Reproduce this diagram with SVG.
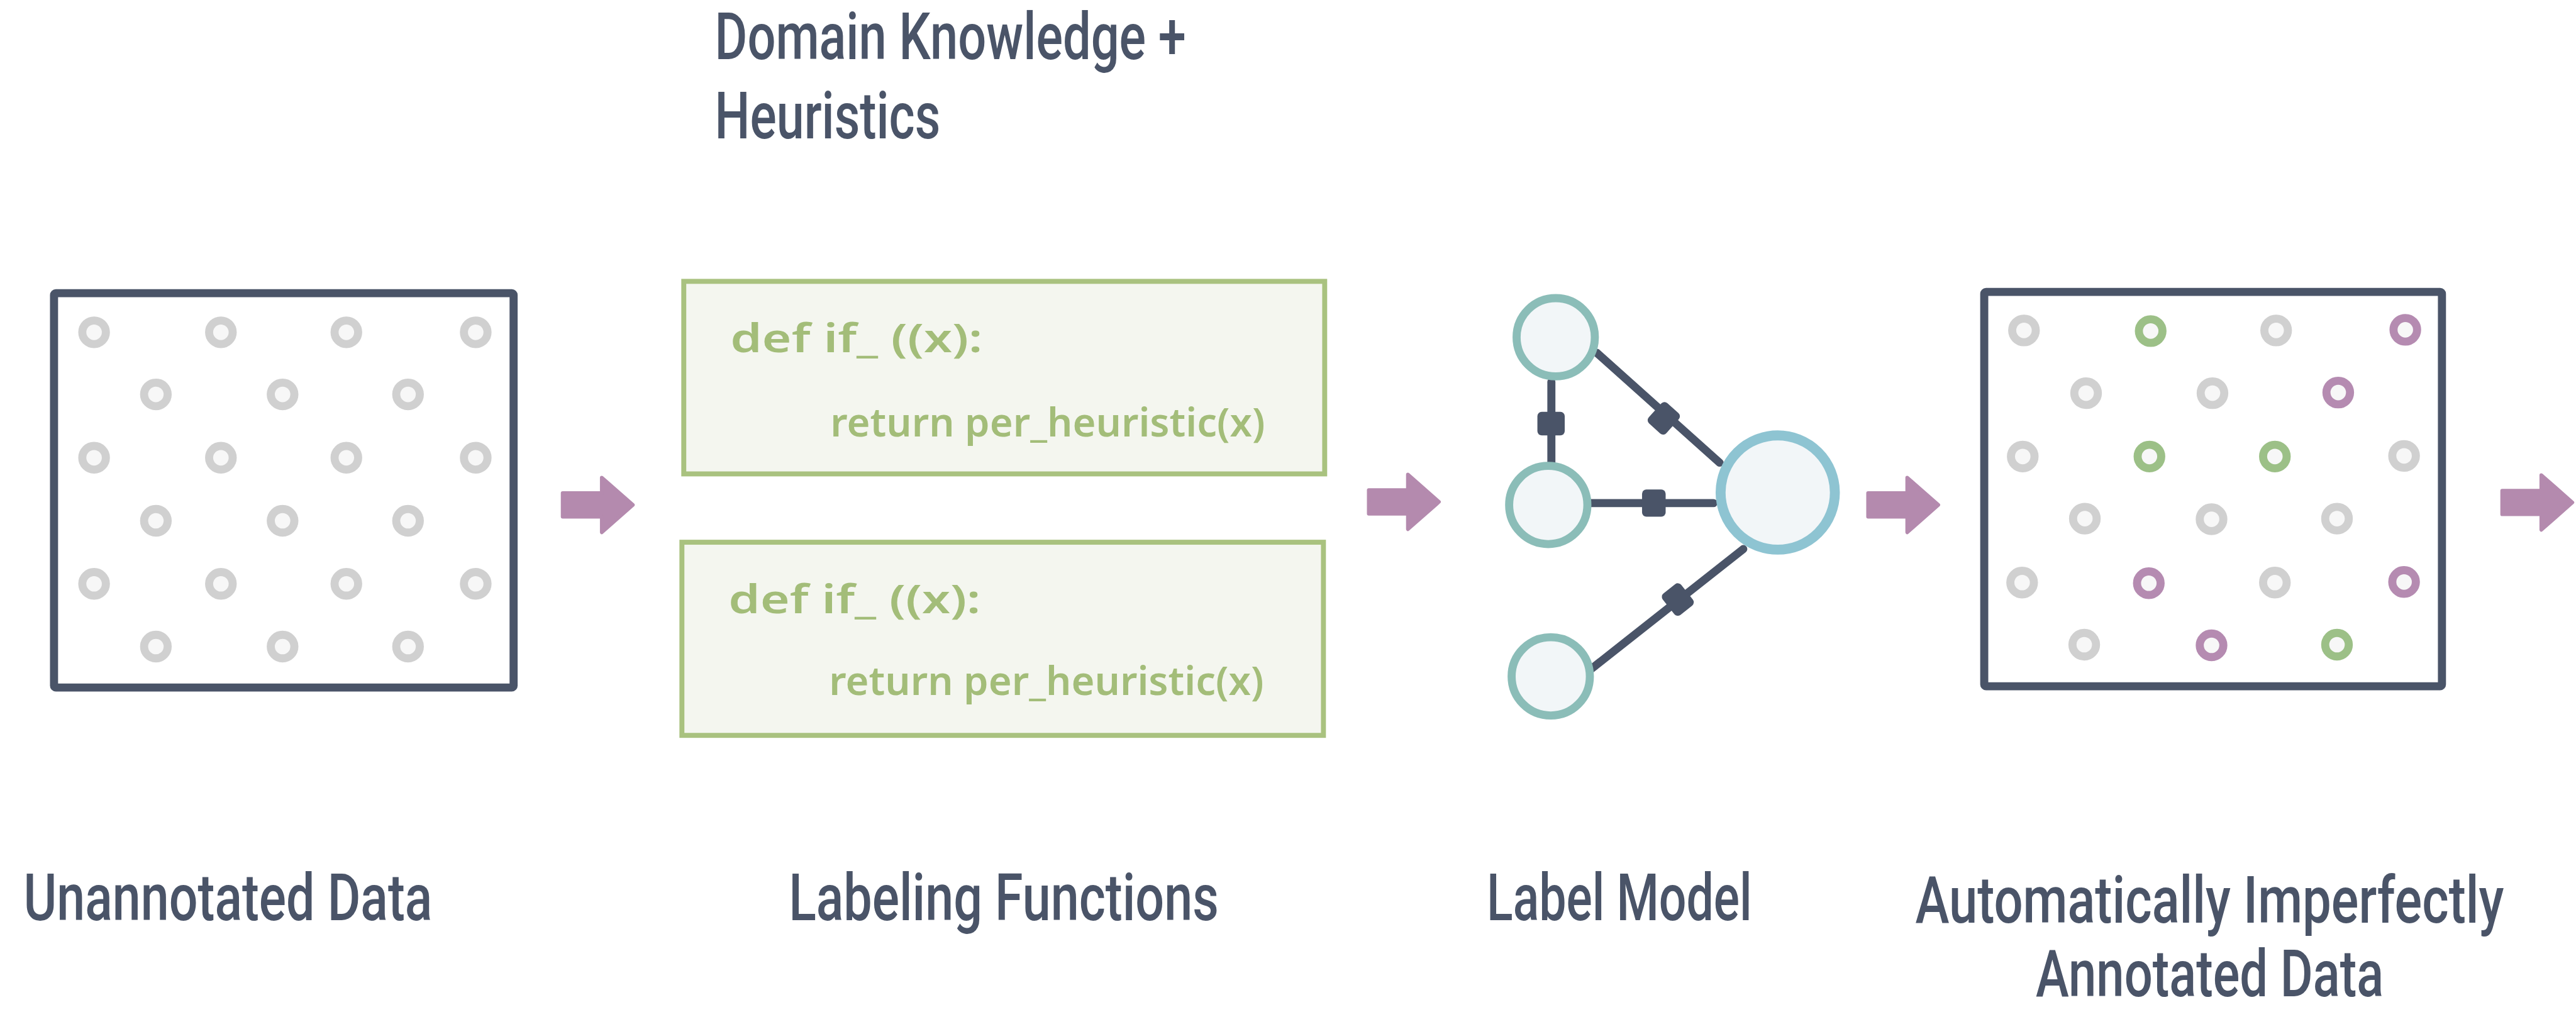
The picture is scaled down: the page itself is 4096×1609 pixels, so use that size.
<svg xmlns="http://www.w3.org/2000/svg" width="4096" height="1609" viewBox="0 0 4096 1609">
  <defs>
    <style>
      .frame { fill: #ffffff; stroke: #4a5468; stroke-width: 13; stroke-linejoin: round; }
      .lf { fill: #f4f6ef; stroke: #a9c27f; stroke-width: 8; }
      .code { font-family: "Noto Sans", "DejaVu Sans", sans-serif; font-size: 64px; font-weight: 600; fill: #a3bd79; }
      .label { font-family: "Roboto", "Liberation Sans", sans-serif; font-size: 106px; font-weight: 500; fill: #4a5468; }
      .pt { stroke-width: 13; fill: #f7f7f7; }
      .grey { stroke: #d0d0d0; }
      .green { stroke: #9cc087; }
      .purple { stroke: #b58bb1; }
      .arrow { fill: #b48aae; stroke: #b48aae; stroke-width: 6; stroke-linejoin: round; }
      .node { fill: #f2f6f8; stroke: #8bbdb8; stroke-width: 13; }
      .hub { fill: #f2f6f8; stroke: #8ec4d2; stroke-width: 16; }
      .edge { stroke: #4a5468; stroke-width: 13; stroke-linecap: round; fill: none; }
      .knob { fill: #4a5468; }
    </style>
    <path id="arrowShape" class="arrow" d="M3,-19 L66,-19 L66,-44 L116,0 L66,44 L66,19 L3,19 Z"/>
    <!-- edge marker, long side across the edge -->
    <rect id="knob" class="knob" x="-19" y="-22" width="38" height="44" rx="7"/>
    <circle id="dot" r="19"/>
  </defs>

  <rect width="4096" height="1609" fill="#ffffff"/>

  <g transform="scale(0.9875)">

    <!-- heading above the labeling functions (labels are narrowed horizontally) -->
    <g id="heading">
      <text class="label" transform="translate(1151 95) scale(0.7 1)" textLength="1084" lengthAdjust="spacingAndGlyphs">Domain Knowledge +</text>
      <text class="label" transform="translate(1151 223) scale(0.7 1)" textLength="519" lengthAdjust="spacingAndGlyphs">Heuristics</text>
    </g>

    <!-- unlabelled points -->
    <g id="unannotated-data">
      <rect class="frame" x="87" y="472" width="740" height="635" rx="3"/>
      <g class="pt grey">
        <use href="#dot" x="151.5" y="535"/><use href="#dot" x="355.7" y="535"/><use href="#dot" x="557.7" y="535"/><use href="#dot" x="766" y="535"/>
        <use href="#dot" x="251" y="635"/><use href="#dot" x="455" y="635"/><use href="#dot" x="657" y="635"/>
        <use href="#dot" x="151.5" y="737"/><use href="#dot" x="355.7" y="737"/><use href="#dot" x="557.7" y="737"/><use href="#dot" x="766" y="737"/>
        <use href="#dot" x="251" y="838.5"/><use href="#dot" x="455" y="838.5"/><use href="#dot" x="657" y="838.5"/>
        <use href="#dot" x="151.5" y="940"/><use href="#dot" x="355.7" y="940"/><use href="#dot" x="557.7" y="940"/><use href="#dot" x="766" y="940"/>
        <use href="#dot" x="251" y="1041"/><use href="#dot" x="455" y="1041"/><use href="#dot" x="657" y="1041"/>
      </g>
      <text class="label" transform="translate(38 1482) scale(0.7 1)" textLength="940" lengthAdjust="spacingAndGlyphs">Unannotated Data</text>
    </g>

    <!-- two heuristic labeling functions -->
    <g id="labeling-functions">
      <rect class="lf" x="1101" y="453" width="1032" height="310"/>
      <text class="code" x="1176" y="567" textLength="406" lengthAdjust="spacingAndGlyphs">def if_ ((x):</text>
      <text class="code" x="1337" y="703" textLength="700" lengthAdjust="spacingAndGlyphs">return per_heuristic(x)</text>
      <rect class="lf" x="1098" y="873" width="1033" height="311"/>
      <text class="code" x="1173" y="987" textLength="406" lengthAdjust="spacingAndGlyphs">def if_ ((x):</text>
      <text class="code" x="1335" y="1119" textLength="700" lengthAdjust="spacingAndGlyphs">return per_heuristic(x)</text>
      <text class="label" transform="translate(1270 1482) scale(0.7 1)" textLength="989" lengthAdjust="spacingAndGlyphs">Labeling Functions</text>
    </g>

    <!-- label model graph: edges first, nodes on top -->
    <g id="connectors">
      <line class="edge" x1="2498" y1="615" x2="2498" y2="755"/>
      <use href="#knob" transform="translate(2497.5 682) rotate(90)"/>
      <line class="edge" x1="2571" y1="568" x2="2769" y2="745"/>
      <use href="#knob" transform="translate(2679 673.5) rotate(41.9)"/>
      <line class="edge" x1="2561" y1="810" x2="2759" y2="810"/>
      <use href="#knob" transform="translate(2663 810)"/>
      <line class="edge" x1="2561" y1="1078" x2="2807" y2="884"/>
      <use href="#knob" transform="translate(2701.6 965.3) rotate(-38.3)"/>
    </g>
    <g id="label-model">
      <circle id="lm-source-1" class="node" cx="2505" cy="543" r="63"/>
      <circle id="lm-source-2" class="node" cx="2493" cy="813" r="63"/>
      <circle id="lm-source-3" class="node" cx="2497" cy="1089" r="63"/>
      <circle id="lm-output" class="hub" cx="2862.5" cy="793" r="92"/>
      <text class="label" transform="translate(2394 1482) scale(0.7 1)" textLength="610" lengthAdjust="spacingAndGlyphs">Label Model</text>
    </g>

    <!-- weakly labelled points -->
    <g id="annotated-data">
      <rect class="frame" x="3195" y="470" width="737" height="635" rx="3"/>
      <g class="pt">
        <use class="grey" href="#dot" x="3259" y="532"/><use class="green" href="#dot" x="3463" y="533"/><use class="grey" href="#dot" x="3665" y="532"/><use class="purple" href="#dot" x="3873" y="531"/>
        <use class="grey" href="#dot" x="3359" y="633"/><use class="grey" href="#dot" x="3562.5" y="633"/><use class="purple" href="#dot" x="3765" y="632"/>
        <use class="grey" href="#dot" x="3257" y="735"/><use class="green" href="#dot" x="3461" y="735"/><use class="green" href="#dot" x="3663" y="735"/><use class="grey" href="#dot" x="3871" y="734"/>
        <use class="grey" href="#dot" x="3357" y="835"/><use class="grey" href="#dot" x="3561" y="836"/><use class="grey" href="#dot" x="3763" y="835"/>
        <use class="grey" href="#dot" x="3256" y="938"/><use class="purple" href="#dot" x="3460" y="939"/><use class="grey" href="#dot" x="3663" y="938"/><use class="purple" href="#dot" x="3871" y="937"/>
        <use class="grey" href="#dot" x="3356" y="1038"/><use class="purple" href="#dot" x="3561" y="1039"/><use class="green" href="#dot" x="3763" y="1038"/>
      </g>
      <text class="label" transform="translate(3084 1486) scale(0.7 1)" textLength="1354" lengthAdjust="spacingAndGlyphs">Automatically Imperfectly</text>
      <text class="label" transform="translate(3278 1604) scale(0.7 1)" textLength="800" lengthAdjust="spacingAndGlyphs">Annotated Data</text>
    </g>

    <!-- flow arrows between stages -->
    <g id="flow-arrows">
      <use href="#arrowShape" x="903" y="813"/>
      <use href="#arrowShape" x="2201" y="808"/>
      <use href="#arrowShape" x="3005" y="813"/>
      <use href="#arrowShape" x="4026" y="809"/>
    </g>
  </g>
</svg>
